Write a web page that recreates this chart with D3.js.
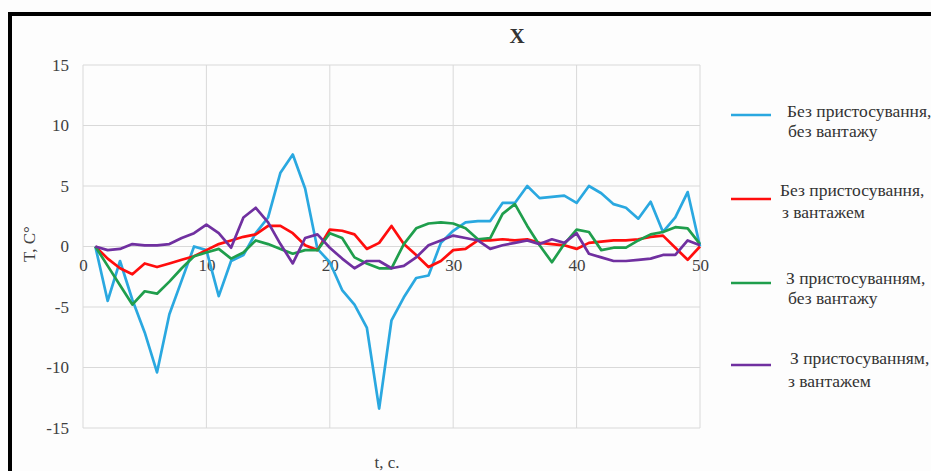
<!DOCTYPE html>
<html>
<head>
<meta charset="utf-8">
<script src="https://cdn.jsdelivr.net/npm/d3@7"></script>
<style>
  body { margin: 0; background: #fdfdfd; }
  svg { display: block; }
  svg text { font-family: "Liberation Serif", "Times New Roman", "DejaVu Serif", serif; }
</style>
</head>
<body>
<div id="chart"></div>
<script>
// time, s
const timeValues = [1, 2, 3, 4, 5, 6, 7, 8, 9, 10, 11, 12, 13, 14, 15, 16, 17, 18, 19, 20,
    21, 22, 23, 24, 25, 26, 27, 28, 29, 30, 31, 32, 33, 34, 35, 36, 37, 38, 39, 40,
    41, 42, 43, 44, 45, 46, 47, 48, 49, 50];

const noFixtureNoLoad = [0, -4.5, -1.2, -4.4, -7.1, -10.4, -5.6, -2.8, 0, -0.3,
    -4.1, -1.2, -0.7, 1.1, 2.4, 6.1, 7.6, 4.8, -0.2, -1.3,
    -3.6, -4.8, -6.7, -13.4, -6.1, -4.2, -2.6, -2.4, 0.3, 1.3,
    2.0, 2.1, 2.1, 3.6, 3.6, 5.0, 4.0, 4.1, 4.2, 3.6,
    5.0, 4.4, 3.5, 3.2, 2.3, 3.7, 1.2, 2.4, 4.5, 0];

const noFixtureLoad = [0, -1.0, -1.8, -2.3, -1.4, -1.7, -1.4, -1.1, -0.8, -0.3,
    0.2, 0.5, 0.8, 1.0, 1.7, 1.7, 1.1, 0.1, -0.3, 1.4,
    1.3, 1.0, -0.2, 0.3, 1.7, 0.2, -0.7, -1.7, -1.2, -0.3,
    -0.2, 0.5, 0.5, 0.6, 0.5, 0.6, 0.3, 0.2, 0.1, -0.2,
    0.3, 0.4, 0.5, 0.5, 0.6, 0.8, 0.9, -0.1, -1.1, 0];

const fixtureNoLoad = [0, -1.6, -3.2, -4.8, -3.7, -3.9, -2.9, -1.8, -0.8, -0.5,
    -0.2, -1.0, -0.5, 0.5, 0.2, -0.2, -0.6, -0.3, -0.3, 1.1,
    0.7, -0.9, -1.4, -1.8, -1.8, 0.2, 1.5, 1.9, 2.0, 1.9,
    1.5, 0.6, 0.7, 2.7, 3.5, 1.7, 0.1, -1.3, 0.2, 1.4,
    1.2, -0.3, -0.1, -0.1, 0.5, 1.0, 1.2, 1.6, 1.5, 0.2];

const fixtureLoad = [0, -0.3, -0.2, 0.2, 0.1, 0.1, 0.2, 0.7, 1.1, 1.8,
    1.1, -0.1, 2.4, 3.2, 2.0, 0.2, -1.4, 0.7, 1.0, -0.1,
    -1.0, -1.8, -1.2, -1.2, -1.8, -1.6, -0.9, 0.1, 0.5, 0.9,
    0.7, 0.5, -0.2, 0.1, 0.3, 0.5, 0.2, 0.6, 0.3, 1.1,
    -0.6, -0.9, -1.2, -1.2, -1.1, -1.0, -0.7, -0.7, 0.5, 0.1];

const seriesNames = [
    ["Без пристосування,", "без вантажу"],
    ["Без пристосування,", "з вантажем"],
    ["З пристосуванням,", "без вантажу"],
    ["З пристосуванням,", "з вантажем"]
];
const seriesValues = [noFixtureNoLoad, noFixtureLoad, fixtureNoLoad, fixtureLoad];
const seriesColors = ["#2aa8e0", "#ff0d0d", "#1f9e4c", "#7030a0"];

const xTicks = [0, 10, 20, 30, 40, 50];
const yTicks = [-15, -10, -5, 0, 5, 10, 15];

const width = 931, height = 471;
const plot = { left: 83, right: 700, top: 65, bottom: 428 };
const serif = '"Liberation Serif", "Times New Roman", "DejaVu Serif", serif';

const svg = d3.select('#chart').append('svg')
    .attr('width', width)
    .attr('height', height)
    .attr('font-family', serif);

svg.append('rect')
    .attr('width', width).attr('height', height)
    .attr('fill', '#fdfdfd');

// black frame (open at right and bottom)
svg.append('rect')
    .attr('x', 10).attr('y', 14)
    .attr('width', 960).attr('height', 500)
    .attr('fill', 'none')
    .attr('stroke', '#000')
    .attr('stroke-width', 4);

const x = d3.scaleLinear().domain([0, 50]).range([plot.left, plot.right]);
const y = d3.scaleLinear().domain([-15, 15]).range([plot.bottom, plot.top]);

// grid
svg.append('g')
    .selectAll('line')
    .data(yTicks)
    .join('line')
    .attr('x1', plot.left).attr('x2', plot.right)
    .attr('y1', d => y(d)).attr('y2', d => y(d))
    .attr('stroke', '#d9d9d9').attr('stroke-width', 1);

svg.append('g')
    .selectAll('line')
    .data(xTicks)
    .join('line')
    .attr('x1', d => x(d)).attr('x2', d => x(d))
    .attr('y1', plot.top).attr('y2', plot.bottom)
    .attr('stroke', '#d9d9d9').attr('stroke-width', 1);

// y axis labels (plain hyphen like the original)
const yAxis = svg.append('g')
    .attr('transform', `translate(${plot.left},0)`)
    .call(d3.axisLeft(y).tickValues(yTicks).tickSize(0).tickPadding(14)
        .tickFormat(d => String(d)));
yAxis.attr('font-family', serif);
yAxis.select('.domain').remove();
yAxis.selectAll('text')
    .attr('font-size', 17)
    .attr('fill', '#404040');

// x axis labels sit on the zero line
const xAxis = svg.append('g')
    .attr('transform', `translate(0,${y(0)})`)
    .call(d3.axisBottom(x).tickValues(xTicks).tickSize(0).tickPadding(12)
        .tickFormat(d => String(d)));
xAxis.attr('font-family', serif);
xAxis.select('.domain').remove();
xAxis.selectAll('text')
    .attr('font-size', 17)
    .attr('fill', '#404040');

// lines
const line = d3.line()
    .x((d, i) => x(timeValues[i]))
    .y(d => y(d));

seriesValues.forEach((vals, i) => {
    svg.append('path')
        .datum(vals)
        .attr('d', line)
        .attr('fill', 'none')
        .attr('stroke', seriesColors[i])
        .attr('stroke-width', 2.7)
        .attr('stroke-linejoin', 'round');
});

// title
svg.append('text')
    .attr('x', 517).attr('y', 43)
    .attr('text-anchor', 'middle')
    .attr('font-size', 21)
    .attr('font-weight', 'bold')
    .attr('fill', '#333')
    .text('X');

// axis titles
svg.append('text')
    .attr('transform', 'translate(35,244) rotate(-90)')
    .attr('text-anchor', 'middle')
    .attr('font-size', 17)
    .attr('fill', '#404040')
    .text('T, C°');

svg.append('text')
    .attr('x', 387).attr('y', 468)
    .attr('text-anchor', 'middle')
    .attr('font-size', 17)
    .attr('fill', '#404040')
    .text('t, c.');

// legend layout
const legendLineY = [115, 199, 283, 365];
const legendText1 = [[787, 111], [780, 190], [786, 278], [790, 358]];
const legendText2 = [[788, 131], [782, 212], [788, 298], [788, 381]];
const legend = svg.append('g');
seriesNames.forEach((name, i) => {
    legend.append('line')
        .attr('x1', 731).attr('x2', 771)
        .attr('y1', legendLineY[i]).attr('y2', legendLineY[i])
        .attr('stroke', seriesColors[i])
        .attr('stroke-width', 2.7);
    legend.append('text')
        .attr('x', legendText1[i][0])
        .attr('y', legendText1[i][1])
        .attr('dy', '0.32em')
        .attr('font-size', 17.5)
        .attr('fill', '#333')
        .text(name[0]);
    legend.append('text')
        .attr('x', legendText2[i][0])
        .attr('y', legendText2[i][1])
        .attr('dy', '0.32em')
        .attr('font-size', 17.5)
        .attr('fill', '#333')
        .text(name[1]);
});
</script>
</body>
</html>
